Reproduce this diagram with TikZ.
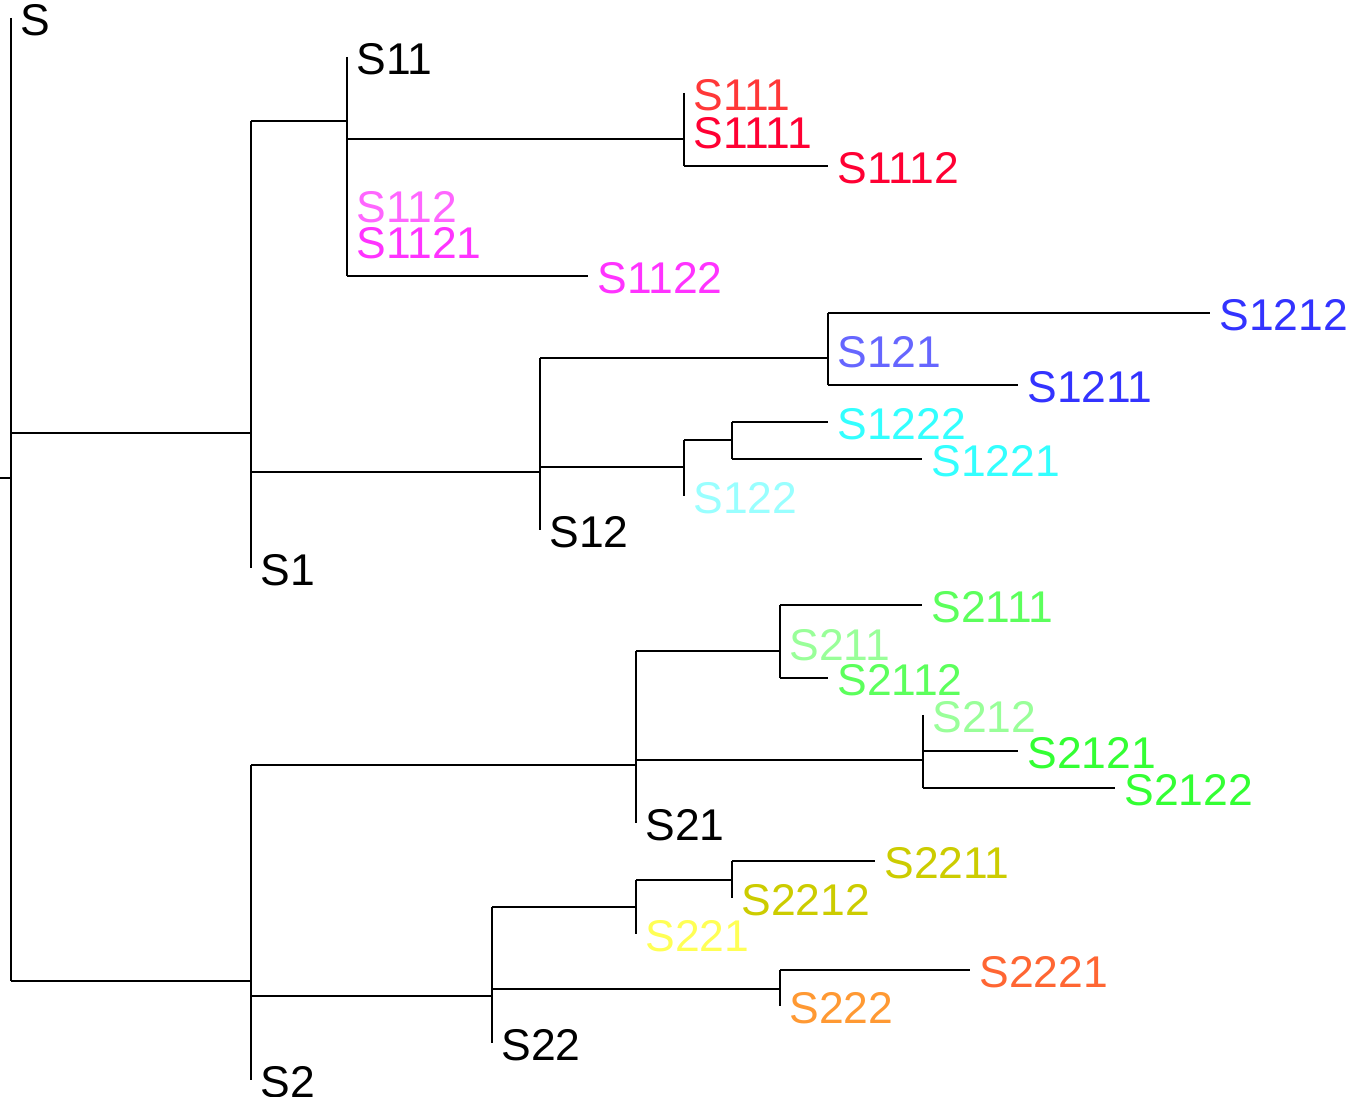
\documentclass[tikz,border=0pt]{standalone}
\usepackage{fontspec}
\newfontfamily\labfont{Liberation Sans}
\definecolor{cSoneoneone}{HTML}{FF3838}
\definecolor{cSred}{HTML}{FF0033}
\definecolor{cSmaglt}{HTML}{FF66FF}
\definecolor{cSmag}{HTML}{FF33FF}
\definecolor{cSbluelt}{HTML}{6666FF}
\definecolor{cSblue}{HTML}{3333FF}
\definecolor{cScyanlt}{HTML}{99FFFF}
\definecolor{cScyan}{HTML}{33FFFF}
\definecolor{cSgreenlt}{HTML}{99FF99}
\definecolor{cSgreen}{HTML}{5CFF5C}
\definecolor{cSgreendk}{HTML}{33FF33}
\definecolor{cSyellt}{HTML}{FFFF55}
\definecolor{cSyel}{HTML}{CCCC00}
\definecolor{cSorred}{HTML}{FF6633}
\definecolor{cSor}{HTML}{FF9933}
\begin{document}
\begin{tikzpicture}[x=0.02cm,y=-0.02cm,
  br/.style={line width=0.9pt, black},
  lab/.style={anchor=west, inner sep=0pt, xshift=0.18cm, yshift=-0.045cm, font=\labfont\fontsize{25.3}{30}\selectfont}]
\useasboundingbox (0,0) rectangle (1356,1097);
% ---------- coordinates ----------
% root
\coordinate (rin) at (0,478);
\coordinate (rmid) at (11,478);
\coordinate (rtop) at (11,18);
\coordinate (rbot) at (11,981);
\coordinate (r1) at (11,433);
% S1
\coordinate (a1top) at (251,121);
\coordinate (a1bot) at (251,568);
\coordinate (a1in) at (251,433);
\coordinate (a1j1) at (251,472);
\coordinate (a2bot) at (251,981);
% S11
\coordinate (b11top) at (347,57);
\coordinate (b11in) at (347,121);
\coordinate (b11j) at (347,139);
\coordinate (b112) at (347,205);
\coordinate (b1121) at (347,241);
\coordinate (b11bot) at (347,276);
\coordinate (b1122) at (588,276);
% S111
\coordinate (c111top) at (684,93);
\coordinate (c111in) at (684,139);
\coordinate (c1111) at (684,131);
\coordinate (c111bot) at (684,166);
\coordinate (c1112) at (828,166);
% S12
\coordinate (d12top) at (540,358);
\coordinate (d12in) at (540,472);
\coordinate (d12j) at (540,467);
\coordinate (d12bot) at (540,530);
% S121
\coordinate (e121top) at (828,313);
\coordinate (e121in) at (828,358);
\coordinate (e121lab) at (828,350);
\coordinate (e121bot) at (828,385);
\coordinate (e1212) at (1210,313);
\coordinate (e1211) at (1018,385);
% S122
\coordinate (f122top) at (684,440);
\coordinate (f122in) at (684,467);
\coordinate (f122bot) at (684,496);
\coordinate (g12in) at (732,440);
\coordinate (g12top) at (732,422);
\coordinate (g12bot) at (732,459);
\coordinate (g1222) at (828,422);
\coordinate (g1221) at (922,459);
% S2
\coordinate (h2top) at (251,765);
\coordinate (h2j) at (251,996);
\coordinate (h2bot) at (251,1080);
% S21
\coordinate (i21top) at (636,651);
\coordinate (i21in) at (636,765);
\coordinate (i21j) at (636,760);
\coordinate (i21bot) at (636,823);
% S211
\coordinate (j211top) at (780,605);
\coordinate (j211in) at (780,651);
\coordinate (j211lab) at (780,643);
\coordinate (j211bot) at (780,678);
\coordinate (j2111) at (922,605);
\coordinate (j2112) at (828,678);
% S212
\coordinate (k212top) at (923,715);
\coordinate (k212in) at (923,760);
\coordinate (k212j) at (923,751);
\coordinate (k212bot) at (923,788);
\coordinate (k2121) at (1018,751);
\coordinate (k2122) at (1115,788);
% S22
\coordinate (l22top) at (492,907);
\coordinate (l22in) at (492,996);
\coordinate (l22j) at (492,989);
\coordinate (l22bot) at (492,1043);
% S221
\coordinate (m221top) at (636,880);
\coordinate (m221in) at (636,907);
\coordinate (m221bot) at (636,934);
\coordinate (n22in) at (732,880);
\coordinate (n22top) at (732,861);
\coordinate (n22bot) at (732,898);
\coordinate (n2211) at (875,861);
% S222
\coordinate (o222top) at (780,970);
\coordinate (o222in) at (780,989);
\coordinate (o222bot) at (780,1006);
\coordinate (o2221) at (970,970);
% ---------- branches ----------
\draw[br] (rin) -- (rmid);
\draw[br] (rtop) -- (rbot);
\draw[br] (r1) -- (a1in);
\draw[br] (rbot) -- (a2bot);
\draw[br] (a1top) -- (a1bot);
\draw[br] (a1top) -- (b11in);
\draw[br] (a1j1) -- (d12in);
\draw[br] (b11top) -- (b11bot);
\draw[br] (b11j) -- (c111in);
\draw[br] (b11bot) -- (b1122);
\draw[br] (c111top) -- (c111bot);
\draw[br] (c111bot) -- (c1112);
\draw[br] (d12top) -- (d12bot);
\draw[br] (d12top) -- (e121in);
\draw[br] (d12j) -- (f122in);
\draw[br] (e121top) -- (e121bot);
\draw[br] (e121top) -- (e1212);
\draw[br] (e121bot) -- (e1211);
\draw[br] (f122top) -- (f122bot);
\draw[br] (f122top) -- (g12in);
\draw[br] (g12top) -- (g12bot);
\draw[br] (g12top) -- (g1222);
\draw[br] (g12bot) -- (g1221);
\draw[br] (h2top) -- (h2bot);
\draw[br] (h2top) -- (i21in);
\draw[br] (h2j) -- (l22in);
\draw[br] (i21top) -- (i21bot);
\draw[br] (i21top) -- (j211in);
\draw[br] (i21j) -- (k212in);
\draw[br] (j211top) -- (j211bot);
\draw[br] (j211top) -- (j2111);
\draw[br] (j211bot) -- (j2112);
\draw[br] (k212top) -- (k212bot);
\draw[br] (k212j) -- (k2121);
\draw[br] (k212bot) -- (k2122);
\draw[br] (l22top) -- (l22bot);
\draw[br] (l22top) -- (m221in);
\draw[br] (l22j) -- (o222in);
\draw[br] (m221top) -- (m221bot);
\draw[br] (m221top) -- (n22in);
\draw[br] (n22top) -- (n22bot);
\draw[br] (n22top) -- (n2211);
\draw[br] (o222top) -- (o222bot);
\draw[br] (o222top) -- (o2221);
% ---------- labels ----------
\node[lab] (tS) at (rtop) {S};
\node[lab] (tS1) at (a1bot) {S1};
\node[lab] (tS11) at (b11top) {S11};
\node[lab, text=cSmaglt] (tS112) at (b112) {S112};
\node[lab, text=cSmag] (tS1121) at (b1121) {S1121};
\node[lab, text=cSmag] (tS1122) at (b1122) {S1122};
\node[lab, text=cSoneoneone] (tS111) at (c111top) {S111};
\node[lab, text=cSred] (tS1111) at (c1111) {S1111};
\node[lab, text=cSred] (tS1112) at (c1112) {S1112};
\node[lab] (tS12) at (d12bot) {S12};
\node[lab, text=cSbluelt] (tS121) at (e121lab) {S121};
\node[lab, text=cSblue] (tS1212) at (e1212) {S1212};
\node[lab, text=cSblue] (tS1211) at (e1211) {S1211};
\node[lab, text=cScyanlt] (tS122) at (f122bot) {S122};
\node[lab, text=cScyan] (tS1222) at (g1222) {S1222};
\node[lab, text=cScyan] (tS1221) at (g1221) {S1221};
\node[lab] (tS2) at (h2bot) {S2};
\node[lab] (tS21) at (i21bot) {S21};
\node[lab, text=cSgreenlt] (tS211) at (j211lab) {S211};
\node[lab, text=cSgreen] (tS2111) at (j2111) {S2111};
\node[lab, text=cSgreen] (tS2112) at (j2112) {S2112};
\node[lab, text=cSgreenlt] (tS212) at (k212top) {S212};
\node[lab, text=cSgreendk] (tS2121) at (k2121) {S2121};
\node[lab, text=cSgreendk] (tS2122) at (k2122) {S2122};
\node[lab] (tS22) at (l22bot) {S22};
\node[lab, text=cSyellt] (tS221) at (m221bot) {S221};
\node[lab, text=cSyel] (tS2211) at (n2211) {S2211};
\node[lab, text=cSyel] (tS2212) at (n22bot) {S2212};
\node[lab, text=cSor] (tS222) at (o222bot) {S222};
\node[lab, text=cSorred] (tS2221) at (o2221) {S2221};
\end{tikzpicture}
\end{document}
